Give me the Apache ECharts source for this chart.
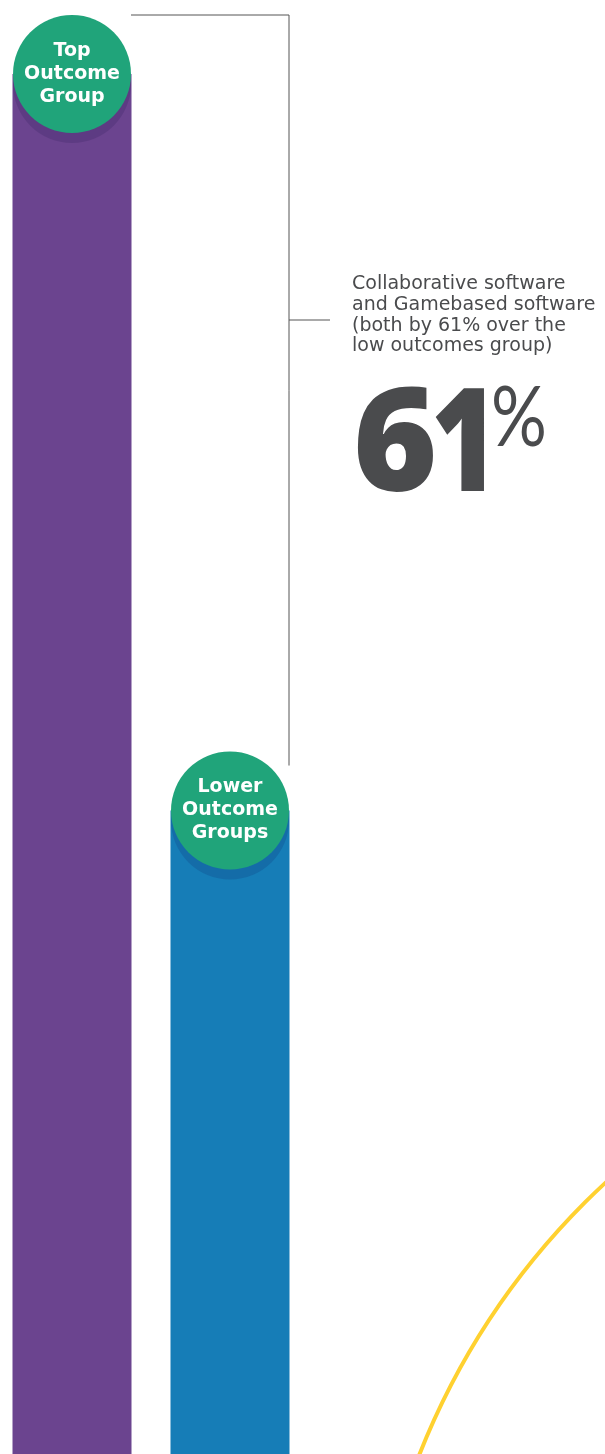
<!DOCTYPE html>
<html>
<head>
<meta charset="utf-8">
<script src="https://cdn.jsdelivr.net/npm/echarts@6/dist/echarts.min.js"></script>
<style>
html,body{margin:0;padding:0;background:#fff;overflow:hidden;width:605px;height:1454px;}
#chart{width:605px;height:2018px;}
</style>
</head>
<body>
<div id="chart"></div>
<script>
// ---- data ----
const categories = ['Top Outcome Group', 'Lower Outcome Groups'];
const circleLabels = ['Top\nOutcome\nGroup', 'Lower\nOutcome\nGroups'];
const values = [161, 100]; // relative index: lower groups = 100, top group 61% higher
const annotationLines = ['Collaborative software', 'and Gamebased software', '(both by 61% over the', 'low outcomes group)'];
const bigDigits = ['6', '1'];
const bigSuffix = '%';

// ---- styles ----
const barColors = ['#6B448F', '#167DB7'];
const shadowColors = ['#5A3A80', '#1468A4'];
const circleColor = '#20A47A';
const textColor = '#4A4B4D';
const lineColor = '#555555';

const chart = echarts.init(document.getElementById('chart'), null, {renderer: 'canvas'});

const option = {
  animation: false,
  backgroundColor: '#ffffff',
  grid: {left: 0, right: 0, top: 74, bottom: 0, containLabel: false},
  xAxis: {
    type: 'value', min: -72 / 158, max: (605 - 72) / 158,
    splitLine: {show: false}, axisLine: {show: false}, axisTick: {show: false}, axisLabel: {show: false}
  },
  yAxis: {
    type: 'value', min: 0, max: 161,
    splitLine: {show: false}, axisLine: {show: false}, axisTick: {show: false}, axisLabel: {show: false}
  },
  series: [
    {
      type: 'bar', barWidth: 119, name: 'bars',
      data: values.map((v, i) => ({value: [i, v], name: categories[i], itemStyle: {color: barColors[i]}})),
      z: 1
    },
    {
      type: 'scatter', symbol: 'circle', symbolSize: 118, symbolOffset: [0, 10],
      data: values.map((v, i) => ({value: [i, v], itemStyle: {color: shadowColors[i]}})),
      z: 2, silent: true
    },
    {
      type: 'scatter', symbol: 'circle', symbolSize: 118,
      data: values.map((v, i) => ({value: [i, v], name: categories[i]})),
      itemStyle: {color: circleColor, opacity: 1},
      label: {
        show: true, position: 'inside',
        formatter: p => circleLabels[p.dataIndex],
        color: '#ffffff', fontFamily: 'DejaVu Sans', fontWeight: 'bold', fontSize: 19, lineHeight: 23
      },
      z: 3
    }
  ]
};
chart.setOption(option);

// annotation bracket positioned from the chart's own scale
const pTop = chart.convertToPixel({gridIndex: 0}, [0, values[0]]);
const pLow = chart.convertToPixel({gridIndex: 0}, [1, values[1]]);
const r = 59;
const bx = pLow[0] + 59;
const yTop = pTop[1] - r;
const yBot = pLow[1] - 45;
const yMid = 320;

chart.setOption({
  graphic: [
    {
      type: 'polyline', z: 0,
      shape: {points: [[pTop[0] + 59, yTop], [bx, yTop], [bx, yBot]]},
      style: {stroke: lineColor, lineWidth: 1, fill: null}
    },
    {
      type: 'line', shape: {x1: bx, y1: yMid, x2: bx + 41, y2: yMid},
      style: {stroke: lineColor, lineWidth: 1}
    },
    {
      type: 'text', left: 352, top: 274,
      style: {text: annotationLines.join('\n'), fill: textColor, fontFamily: 'DejaVu Sans', fontSize: 19, lineHeight: 20.7}
    },
    {
      type: 'text', x: 353, y: 378,
      style: {text: bigDigits[0], fill: textColor, fontFamily: 'Open Sans', fontWeight: 800, fontSize: 144}
    },
    {
      type: 'text', x: 431, y: 378, scaleX: 0.8,
      style: {text: bigDigits[1], fill: textColor, fontFamily: 'Open Sans', fontWeight: 800, fontSize: 144}
    },
    {
      type: 'text', x: 491, y: 377, scaleX: 0.83,
      style: {text: bigSuffix, fill: textColor, fontFamily: 'Lato', fontWeight: 'normal', fontSize: 84}
    },
    {
      type: 'circle', silent: true,
      shape: {cx: 1112, cy: 1729, r: 745},
      style: {stroke: '#FFD130', lineWidth: 4, fill: null}
    }
  ]
});
</script>
</body>
</html>
